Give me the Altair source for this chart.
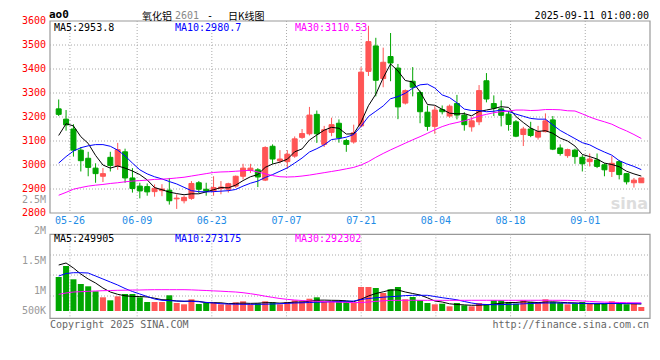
import altair as alt
import pandas as pd

# ---------------- data ----------------
opens = [3234,3191,3150,3062,3028,2987,2953,3032,2994,3055,
         2946,2912,2910,2889,2893,2895,2859,2851,2861,2926,
         2899,2892,2902,2899,2912,2953,2977,2980,2937,3078,
         3017,3014,3037,3115,3130,3211,3086,3136,3174,3102,
         3096,3163,3390,3496,3360,3452,3404,3258,3349,3302,
         3220,3161,3231,3204,3256,3208,3159,3180,3351,3256,
         3234,3212,3180,3127,3150,3116,3139,3188,3071,3039,
         3062,3032,3014,3021,3001,2973,3014,2964,2926,2926]
highs = [3273,3229,3170,3075,3055,3007,2987,3055,3092,3068,
         2987,2926,2923,2919,2920,2946,2878,2872,2933,2933,
         2926,2953,2933,2926,2956,3005,3005,2987,3078,3086,
         3062,3062,3119,3150,3242,3227,3163,3197,3190,3109,
         3168,3408,3580,3530,3489,3550,3421,3315,3408,3310,
         3248,3245,3248,3252,3292,3220,3200,3333,3383,3290,
         3269,3225,3187,3159,3180,3163,3215,3204,3086,3068,
         3068,3041,3048,3048,3007,3037,3021,2967,2946,2946]
lows = [3204,3143,3035,2973,2953,2926,2929,2973,2980,2926,
        2885,2861,2872,2868,2870,2835,2817,2840,2855,2883,
        2872,2872,2878,2885,2905,2940,2967,2908,2933,3005,
        3007,2984,3030,3109,3123,3092,3075,3120,3093,3055,
        3089,3157,3371,3286,3324,3349,3191,3252,3286,3174,
        3143,3130,3211,3197,3190,3143,3139,3166,3261,3204,
        3161,3143,3116,3079,3116,3106,3136,3062,3039,3030,
        3005,2973,2994,2987,2953,2950,2940,2919,2906,2926]
closes = [3211,3167,3062,3018,2990,2964,2964,2998,3064,2946,
          2902,2892,2888,2903,2900,2851,2862,2865,2923,2899,
          2892,2906,2908,2922,2953,2987,2987,2950,3073,3025,
          3025,3045,3109,3131,3208,3130,3147,3168,3113,3086,
          3134,3387,3514,3353,3428,3425,3242,3310,3324,3222,
          3161,3229,3222,3245,3208,3168,3184,3310,3275,3237,
          3207,3169,3120,3150,3123,3139,3184,3066,3048,3064,
          3035,3005,3025,2994,2980,3007,2960,2930,2937,2946]
ma5 = [3123,3172,3163,3118,3090,3040,3000,2987,2996,2987,
       2975,2960,2938,2906,2897,2887,2881,2876,2880,2880,
       2888,2897,2906,2905,2916,2935,2951,2960,2990,3004,
       3012,3024,3055,3067,3104,3125,3145,3157,3153,3129,
       3130,3178,3247,3295,3363,3421,3392,3352,3346,3305,
       3252,3249,3232,3216,3213,3214,3205,3223,3229,3235,
       3243,3240,3202,3177,3154,3140,3143,3132,3112,3100,
       3079,3044,3035,3025,3008,3002,2993,2974,2963,2953.8]
ma10 = [3008,3035,3058,3072,3080,3085,3085,3078,3062,3038,
        3008,2980,2963,2951,2942,2931,2921,2907,2893,2889,
        2888,2889,2891,2893,2898,2912,2924,2933,2948,2960,
        2974,2988,3008,3029,3054,3068,3084,3106,3110,3116,
        3127,3161,3202,3224,3246,3276,3285,3299,3320,3334,
        3337,3321,3292,3281,3259,3233,3227,3227,3222,3224,
        3229,3223,3212,3203,3194,3191,3191,3167,3144,3127,
        3110,3093,3084,3068,3054,3041,3018,3005,2994,2980.7]
ma30 = [2874,2886,2899,2906,2912,2916,2919,2923,2926,2930,
        2933,2935,2937,2940,2941,2943,2946,2949,2954,2959,
        2964,2969,2971,2972,2974,2976,2978,2971,2963,2956,
        2951,2950,2951,2954,2958,2963,2968,2973,2978,2984,
        2990,3000,3014,3032,3048,3063,3077,3091,3105,3118,
        3132,3147,3160,3170,3177,3184,3193,3204,3211,3218,
        3222,3225,3229,3229,3227,3228,3231,3231,3230,3226,
        3225,3213,3200,3189,3180,3170,3155,3142,3127,3110.53]
volumes = [1224000,1620000,1141000,972000,889000,709000,493000,385000,529000,612000,
           612000,493000,324000,324000,324000,565000,288000,241000,421000,252000,
           288000,313000,241000,241000,313000,349000,241000,277000,349000,313000,
           241000,324000,385000,349000,443000,493000,324000,349000,349000,349000,
           288000,864000,864000,828000,648000,781000,864000,421000,504000,385000,
           288000,241000,263000,169000,288000,205000,169000,288000,241000,385000,
           385000,324000,263000,385000,324000,288000,421000,324000,288000,241000,
           263000,324000,263000,263000,263000,349000,263000,241000,263000,144000]
vol_ma5 = [1656000,1728000,1548000,1332000,1152000,1008000,828000,684000,601000,547000,
           526000,522000,504000,461000,407000,396000,360000,346000,360000,346000,
           299000,299000,295000,266000,274000,284000,274000,281000,299000,299000,
           284000,299000,320000,324000,349000,389000,392000,385000,382000,367000,
           335000,425000,540000,630000,691000,756000,756000,684000,630000,576000,
           475000,360000,324000,259000,234000,220000,205000,209000,223000,248000,
           281000,306000,306000,331000,320000,302000,320000,331000,313000,299000,
           292000,274000,263000,259000,259000,277000,266000,263000,259000,249905]
vol_ma10 = [1260000,1350000,1379000,1379000,1368000,1260000,1152000,1044000,936000,810000,
            702000,612000,522000,432000,385000,371000,360000,353000,349000,335000,
            310000,288000,263000,252000,245000,241000,241000,241000,245000,252000,
            263000,274000,288000,295000,306000,317000,324000,335000,342000,349000,
            360000,414000,450000,475000,497000,515000,533000,554000,565000,565000,
            565000,522000,479000,443000,403000,342000,288000,245000,234000,227000,
            230000,238000,248000,259000,270000,281000,288000,288000,288000,281000,
            277000,275000,274000,274000,273000,272000,271000,271000,272000,273175]
vol_ma30 = [601000,648000,684000,695000,709000,720000,731000,738000,745000,749000,
            756000,756000,763000,767000,767000,767000,767000,767000,760000,749000,
            738000,724000,713000,698000,684000,659000,623000,583000,533000,490000,
            450000,418000,396000,378000,360000,349000,335000,324000,317000,310000,
            302000,306000,324000,346000,367000,382000,385000,386000,386000,385000,
            385000,385000,384000,384000,385000,385000,386000,386000,386000,386000,
            385000,385000,385000,386000,386000,386000,386000,385000,385000,384000,
            374000,360000,346000,331000,320000,313000,306000,299000,295000,292302]

date_labels = ["05-26", "06-09", "06-23", "07-07", "07-21", "08-04", "08-18", "09-01"]
date_candle = [2, 11, 21, 31, 41, 51, 61, 71]          # candle index of each labelled day
price_ticks = [3600, 3500, 3400, 3300, 3200, 3100, 3000, 2900, 2800]
price_grid = [3500, 3400, 3300, 3200, 3100, 3000, 2900]
vol_tick_labels = ["2.5M", "2M", "1.5M", "1M", "500K"]

# ---------------- styling / layout ----------------
RED, GREEN = "#ff5555", "#00a600"
GRID, BORDER = "#aaaaaa", "#999999"
MONO = "DejaVu Sans Mono"
CJK = "Noto Sans CJK SC"
W, H = 600, 300
P_TOP, P_BOT = 0, 192          # price panel (px inside view)
V_TOP, V_BOT = 213.3, 297.3    # volume panel
vol_label_y = [179, 210, 240, 270, 290]
vol_grid_y = [234, 254, 275]

n = len(closes)
df = pd.DataFrame({
    "idx": list(range(n)), "open": opens, "high": highs, "low": lows, "close": closes,
    "ma5": ma5, "ma10": ma10, "ma30": ma30,
    "vol": volumes, "vma5": vol_ma5, "vma10": vol_ma10, "vma30": vol_ma30,
})
df["dir"] = ["up" if c >= o else "down" for o, c in zip(opens, closes)]

xs = alt.Scale(domain=[-0.5, n - 0.5], nice=False, zero=False)
ps = alt.Scale(domain=[2800, 3600], range=[P_BOT, P_TOP], nice=False, zero=False)
vs = alt.Scale(domain=[-262800, 2761200], range=[V_BOT, V_TOP], nice=False, zero=False)
cs = alt.Scale(domain=["up", "down"], range=[RED, GREEN])

X = alt.X("idx:Q", scale=xs, axis=None)
COL = alt.Color("dir:N", scale=cs, legend=None)
base = alt.Chart(df)
one = pd.DataFrame({"a": [0]})

# the sina chart spaces its date grid lines by width/(n-1) per candle
grid_df = pd.DataFrame({"c": date_candle, "label": date_labels})
grid_df["g"] = grid_df["c"] * n / (n - 1) - 0.5


def txt(text, x, y, color, size=10, align="left", font=MONO, weight="normal", baseline="middle"):
    return alt.Chart(pd.DataFrame({"t": [text]})).mark_text(
        align=align, baseline=baseline, font=font, fontSize=size,
        color=color, fontWeight=weight
    ).encode(x=alt.value(x), y=alt.value(y), text="t:N")


layers = []
# panel borders
for y0, y1 in [(P_TOP, P_BOT), (V_TOP, V_BOT)]:
    layers.append(alt.Chart(one).mark_rect(fill="white", fillOpacity=0, stroke=BORDER, strokeWidth=1.2)
                  .encode(x=alt.value(0), x2=alt.value(W), y=alt.value(y0), y2=alt.value(y1)))
# grids
layers.append(alt.Chart(pd.DataFrame({"p": price_grid})).mark_rule(color=GRID, strokeDash=[1, 2])
              .encode(y=alt.Y("p:Q", scale=ps, axis=None), x=alt.value(0), x2=alt.value(W)))
layers.append(alt.Chart(pd.DataFrame({"yy": vol_grid_y})).mark_rule(color=GRID, strokeDash=[1, 2])
              .encode(y=alt.Y("yy:Q", scale=None), x=alt.value(0), x2=alt.value(W)))
for y0, y1 in [(P_TOP, P_BOT), (V_TOP, V_BOT)]:
    layers.append(alt.Chart(grid_df).mark_rule(color=GRID, strokeDash=[1, 2])
                  .encode(x=alt.X("g:Q", scale=xs, axis=None), y=alt.value(y0), y2=alt.value(y1)))

# volume bars and MAs
layers.append(base.mark_bar(size=6).encode(
    x=X, y=alt.Y("vol:Q", scale=vs, axis=None), y2=alt.datum(0), color=COL))
for f, c in [("vma5", "black"), ("vma10", "#0000ff"), ("vma30", "#ff00ff")]:
    layers.append(base.mark_line(strokeWidth=1, color=c).encode(
        x=X, y=alt.Y(f"{f}:Q", scale=vs, axis=None)))

# candles
layers.append(base.mark_rule(strokeWidth=1).encode(
    x=X, y=alt.Y("low:Q", scale=ps, axis=None), y2="high:Q", color=COL))
layers.append(base.mark_bar(size=5, strokeWidth=1).encode(
    x=X, y=alt.Y("open:Q", scale=ps, axis=None), y2="close:Q", color=COL,
    stroke=alt.Stroke("dir:N", scale=cs, legend=None)))
for f, c in [("ma5", "black"), ("ma10", "#0000ff"), ("ma30", "#ff00ff")]:
    layers.append(base.mark_line(strokeWidth=1, color=c).encode(
        x=X, y=alt.Y(f"{f}:Q", scale=ps, axis=None)))

# axis labels
layers.append(alt.Chart(pd.DataFrame({"p": price_ticks})).mark_text(
    align="right", baseline="middle", font=MONO, fontSize=10, color="#ff0000"
).encode(y=alt.Y("p:Q", scale=ps, axis=None), x=alt.value(-4), text=alt.Text("p:Q", format="d")))
layers.append(alt.Chart(grid_df).mark_text(
    align="center", baseline="middle", font=MONO, fontSize=10, color="#1e8ce6"
).encode(x=alt.X("g:Q", scale=xs, axis=None), y=alt.value(199.7), text="label:N"))
layers.append(alt.Chart(pd.DataFrame({"t": vol_tick_labels, "yy": vol_label_y})).mark_text(
    align="right", baseline="middle", font=MONO, fontSize=10, color="#999999"
).encode(y=alt.Y("yy:Q", scale=None), x=alt.value(-4), text="t:N"))

# titles, legends, footer
layers += [
    txt("ao0", -1, -2.6, "black", size=11, weight="bold", baseline="alphabetic"),
    txt("氧化铝", 92, -1.3, "black", size=10, font=CJK, baseline="alphabetic"),
    txt("2601", 125, -2.3, "#888888", size=10, baseline="alphabetic"),
    txt("-", 157, -2.3, "black", size=10, baseline="alphabetic"),
    txt("日K线图", 178, -1.3, "black", size=10, font=CJK, baseline="alphabetic"),
    txt("2025-09-11 01:00:00", 599, -2.3, "black", size=10, align="right", baseline="alphabetic"),
    txt("MA5:2953.8", 4, 6.6, "black"),
    txt("MA10:2980.7", 125, 6.6, "#0000ff"),
    txt("MA30:3110.53", 245, 6.6, "#ff00ff"),
    txt("MA5:249905", 4, 217.5, "black"),
    txt("MA10:273175", 125, 217.5, "#0000ff"),
    txt("MA30:292302", 245, 217.5, "#ff00ff"),
    txt("Copyright 2025 SINA.COM", 0, 303.5, "#666666"),
    txt("http://finance.sina.com.cn", 599, 303.5, "#666666", align="right"),
    txt("sina", 598, 183, "#dddddd", size=16, align="right", font="DejaVu Sans", weight="bold"),
]

chart = alt.layer(*layers).resolve_scale(y="independent").properties(
    width=W, height=H,
    autosize=alt.AutoSizeParams(type="none"),
    padding={"left": 42, "top": 13, "right": 2, "bottom": 16},
    background="white",
).configure_view(stroke=None)

chart.save("out.html", embed_options={"renderer": "svg", "actions": False})
